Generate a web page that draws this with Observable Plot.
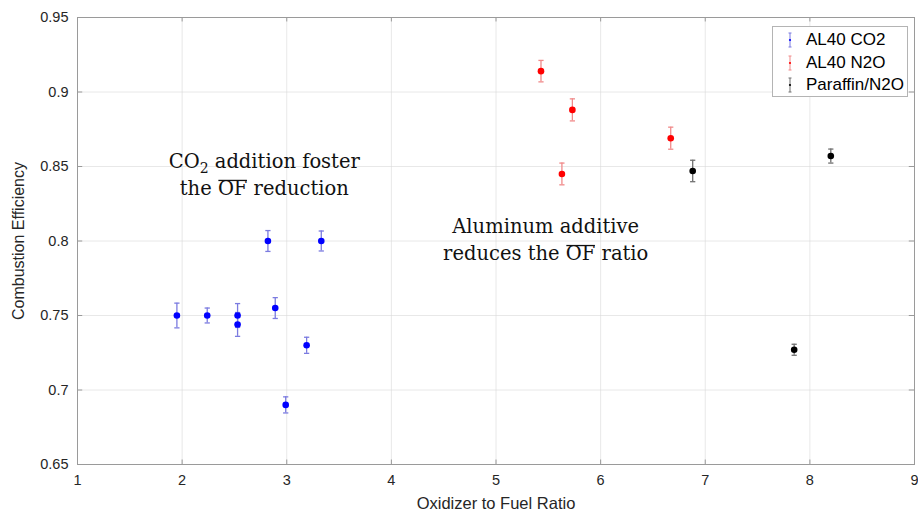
<!DOCTYPE html>
<html><head><meta charset="utf-8">
<script src="https://cdn.jsdelivr.net/npm/d3@7"></script>
<script src="https://cdn.jsdelivr.net/npm/@observablehq/plot@0.6"></script>
<style>
body{margin:0;background:#fff;}
#wrap{position:relative;width:918px;height:515px;overflow:hidden;font-family:"Liberation Sans",Arial,sans-serif;}
#legend{position:absolute;left:772px;top:26px;width:136px;height:71px;border:1px solid #b4b4b4;background:#fff;box-sizing:border-box;padding-top:2px;}
.li{display:flex;align-items:center;height:22.5px;font-size:17px;color:#000;}
.li svg{margin-left:13px;margin-right:12px;}
</style></head><body><div id="wrap"></div>
<script>
// ---- data ----
const seriesNames = ["AL40 CO2", "AL40 N2O", "Paraffin/N2O"];
const seriesColors = ["#0000ff", "#ff0000", "#000000"];
const errColors = ["#7b7be0", "#f08a8a", "#707070"];

const co2X   = [1.95, 2.24, 2.53, 2.53, 2.82, 2.89, 2.99, 3.19, 3.33];
const co2Y   = [0.750, 0.750, 0.750, 0.744, 0.800, 0.755, 0.690, 0.730, 0.800];
const co2Err = [0.0083, 0.005, 0.008, 0.008, 0.007, 0.007, 0.0054, 0.0054, 0.0067];

const n2oX   = [5.43, 5.73, 5.63, 6.67];
const n2oY   = [0.914, 0.888, 0.845, 0.869];
const n2oErr = [0.0072, 0.0074, 0.0073, 0.0074];

const parX   = [6.88, 8.20, 7.85];
const parY   = [0.847, 0.857, 0.727];
const parErr = [0.0072, 0.0047, 0.0037];

const xTicks = [1, 2, 3, 4, 5, 6, 7, 8, 9];
const yTicks = [0.65, 0.7, 0.75, 0.8, 0.85, 0.9, 0.95];

const xLabel = "Oxidizer to Fuel Ratio";
const yLabel = "Combustion Efficiency";

// annotations: data-space anchors (first-line baseline)
const annoX = [2.79, 5.48];
const annoY = [0.8487, 0.805];

// ---- build table ----
const rows = [];
[[co2X, co2Y, co2Err], [n2oX, n2oY, n2oErr], [parX, parY, parErr]].forEach(([xs, ys, es], s) => {
  xs.forEach((x, i) => rows.push({x, y: ys[i], e: es[i], s}));
});
const capW = 0.025;
const yFmt = d => String(+d.toFixed(2));

const plot = Plot.plot({
  width: 918, height: 515,
  marginLeft: 77, marginRight: 4, marginTop: 17, marginBottom: 51,
  style: {fontFamily: '"Liberation Sans", Arial, sans-serif', fontSize: "14.5px", color: "#262626", background: "#fff"},
  x: {domain: [1, 9], label: null},
  y: {domain: [0.65, 0.95], label: null},
  marks: [
    Plot.gridX(xTicks, {stroke: "#d8d8d8", strokeOpacity: 0.6}),
    Plot.gridY(yTicks, {stroke: "#d8d8d8", strokeOpacity: 0.6}),
    Plot.ruleX(xTicks, {y1: 0.65, y2: 0.65 + 0.003, stroke: "#9a9a9a"}),
    Plot.ruleX(xTicks, {y1: 0.95, y2: 0.95 - 0.003, stroke: "#9a9a9a"}),
    Plot.ruleY(yTicks, {x1: 1, x2: 1 + 0.05, stroke: "#9a9a9a"}),
    Plot.ruleY(yTicks, {x1: 9, x2: 9 - 0.05, stroke: "#9a9a9a"}),
    Plot.frame({stroke: "#9a9a9a"}),
    Plot.axisX({ticks: xTicks, tickSize: 0, tickPadding: 10, label: null, fontSize: 14.5}),
    Plot.axisX({ticks: [], tickSize: 0, label: xLabel, labelAnchor: "center", labelArrow: "none", labelOffset: 44, fontSize: 16.5}),
    Plot.axisY({ticks: yTicks, tickSize: 0, tickPadding: 9, tickFormat: yFmt, label: null, fontSize: 14.5}),
    Plot.axisY({ticks: [], tickSize: 0, label: yLabel, labelAnchor: "center", labelArrow: "none", labelOffset: 65, fontSize: 16}),
    Plot.ruleX(rows, {x: "x", y1: d => d.y - d.e, y2: d => d.y + d.e, stroke: d => errColors[d.s], strokeWidth: 1.3}),
    Plot.link(rows, {x1: d => d.x - capW, x2: d => d.x + capW, y1: d => d.y + d.e, y2: d => d.y + d.e, stroke: d => errColors[d.s], strokeWidth: 1.3}),
    Plot.link(rows, {x1: d => d.x - capW, x2: d => d.x + capW, y1: d => d.y - d.e, y2: d => d.y - d.e, stroke: d => errColors[d.s], strokeWidth: 1.3}),
    Plot.dot(rows, {x: "x", y: "y", r: 3.3, fill: d => seriesColors[d.s], stroke: "none"})
  ]
});
document.getElementById("wrap").appendChild(plot);

// ---- annotations (rich text: subscript / overline) ----
const sx = plot.scale("x"), sy = plot.scale("y");
const svg = d3.select(plot);
const annoFont = '"DejaVu Serif", "Liberation Serif", serif';
const overs = [];
function anno(i, lines) {
  const cx = sx.apply(annoX[i]);
  const g = svg.append("text")
    .attr("x", cx).attr("y", sy.apply(annoY[i]))
    .attr("text-anchor", "middle")
    .attr("font-family", annoFont).attr("font-size", 19.5).attr("fill", "#111");
  lines.forEach((parts, li) => {
    parts.forEach((p, pi) => {
      const t = g.append("tspan").text(p.t);
      if (pi === 0) t.attr("x", cx).attr("dy", li === 0 ? 0 : 27);
      if (p.sub) t.attr("font-size", 14).attr("dy", 5);
      if (p.after) t.attr("dy", -5);
      if (p.over) overs.push(t.node());
    });
  });
}
anno(0, [
  [{t: "CO"}, {t: "2", sub: true}, {t: " addition foster", after: true}],
  [{t: "the "}, {t: "OF", over: true}, {t: " reduction"}]
]);
anno(1, [
  [{t: "Aluminum additive"}],
  [{t: "reduces the "}, {t: "OF", over: true}, {t: " ratio"}]
]);
overs.forEach(node => {
  const n = node.getNumberOfChars();
  const a = node.getExtentOfChar(0), b = node.getExtentOfChar(n - 1);
  const y0 = a.y + 3.5;
  svg.append("line").attr("x1", a.x + 0.5).attr("x2", b.x + b.width - 0.5)
    .attr("y1", y0).attr("y2", y0).attr("stroke", "#111").attr("stroke-width", 1.3);
});

// ---- legend ----
const leg = document.createElement("div");
leg.id = "legend";
seriesNames.forEach((n, i) => {
  const row = document.createElement("div");
  row.className = "li";
  row.innerHTML = `<svg width="8" height="18"><line x1="4" x2="4" y1="2" y2="16" stroke="${errColors[i]}" stroke-width="1"/><line x1="2.5" x2="5.5" y1="2" y2="2" stroke="${errColors[i]}"/><line x1="2.5" x2="5.5" y1="16" y2="16" stroke="${errColors[i]}"/><circle cx="4" cy="9" r="1.1" fill="${seriesColors[i]}"/></svg><span>${n}</span>`;
  leg.appendChild(row);
});
document.getElementById("wrap").appendChild(leg);
</script>
</body></html>
